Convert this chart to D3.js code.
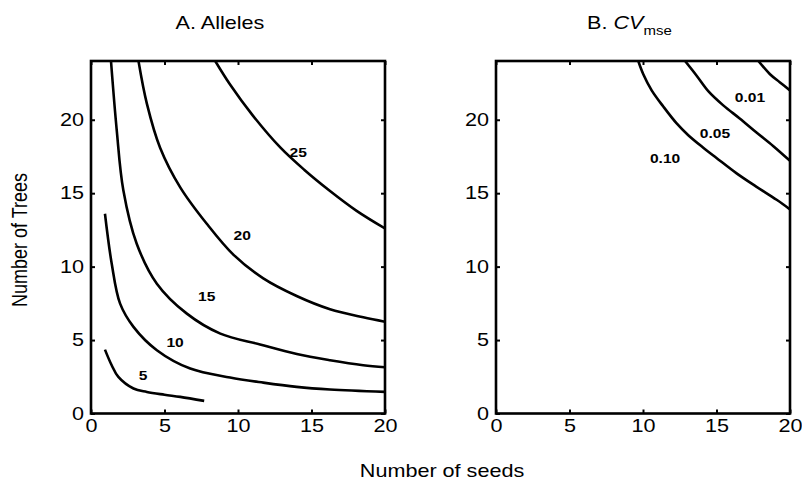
<!DOCTYPE html>
<html><head><meta charset="utf-8">
<script src="https://cdn.jsdelivr.net/npm/d3@7"></script>
<style>body{margin:0;background:#fff;} text{font-family:Arial,"Liberation Sans",sans-serif;}</style>
</head><body><svg id="c" width="802" height="490"></svg>
<script>
// ---- data ----
const xTicks = [0, 5, 10, 15, 20];
const yTicks = [0, 5, 10, 15, 20];
const xDomain = [0, 20];
const yDomain = [0, 24];

// Panel A: allele contours (number of seeds, number of trees)
const allelesLevels = ["5", "10", "15", "20", "25"];
const alleles5  = [[0.95,4.35],[1.4,3.3],[1.86,2.49],[2.89,1.70],[3.8,1.47],[5,1.28],[6.07,1.13],[7.7,0.86]];
const alleles10 = [[0.95,13.6],[1.41,10.2],[1.98,7.48],[2.89,5.9],[4.48,4.31],[6.75,3.06],[9.46,2.45],[11.72,2.1],[13.99,1.81],[16.26,1.63],[20,1.47]];
const alleles15 = [[1.36,24],[1.75,19.3],[2.2,15.2],[3.11,11.56],[4.48,8.84],[6.52,6.8],[8.8,5.44],[11.5,4.7],[14,4.05],[16.26,3.63],[18.52,3.29],[20,3.15]];
const alleles20 = [[3.23,24],[3.8,21.1],[4.7,18.1],[6.07,15.4],[7.89,12.9],[9.7,10.8],[11.72,9.2],[13.99,8.0],[16.26,7.1],[18.52,6.55],[20,6.25]];
const alleles25 = [[8.45,24],[9.46,22.4],[11.0,20.3],[12.89,18.1],[14.5,16.6],[16.26,15.15],[18.07,13.8],[20,12.6]];
const allelesLabelPos = [[3.54,2.61],[5.72,4.85],[7.87,7.97],[10.29,12.14],[14.1,17.8]];

// Panel B: CV_mse contours
const cvLevels = ["0.10", "0.05", "0.01"];
const cv010 = [[9.68,24],[10.02,23.1],[10.59,22.0],[11.38,20.9],[12.29,19.75],[13.08,18.95],[14.1,18.1],[15.0,17.4],[16.37,16.35],[17.7,15.45],[19.09,14.55],[20,13.9]];
const cv005 = [[12.86,24],[13.65,23.0],[14.44,21.95],[15.46,20.98],[16.6,20.07],[17.7,19.15],[18.87,18.2],[20,17.2]];
const cv001 = [[17.85,24],[18.64,23.1],[19.3,22.56],[20,22.0]];
const cvLabelPos = [[11.5,17.38],[14.9,19.09],[17.28,21.55]];

// ---- drawing ----
const SX = 1.2;          // horizontal stretch of glyphs seen in the reference
const FS = 18;
const svg = d3.select("#c");
const H = { top: 61, bottom: 413.5 };
const panels = [
  { left: 91, right: 385, curves: [alleles5, alleles10, alleles15, alleles20, alleles25], labels: allelesLevels, labelPos: allelesLabelPos, id: "A" },
  { left: 496, right: 790, curves: [cv010, cv005, cv001], labels: cvLevels, labelPos: cvLabelPos, id: "B" }
];

function stretchedText(parent, x, y, str, size, weight, anchor) {
  return parent.append("text")
    .attr("transform", `translate(${x},${y}) scale(${SX},1)`)
    .attr("text-anchor", anchor || "middle")
    .attr("font-size", size).attr("font-weight", weight || "normal").text(str);
}

panels.forEach(p => {
  const x = d3.scaleLinear().domain(xDomain).range([p.left, p.right]);
  const y = d3.scaleLinear().domain(yDomain).range([H.bottom, H.top]);
  const g = svg.append("g");
  g.append("clipPath").attr("id", "clip" + p.id).append("rect")
    .attr("x", p.left).attr("y", H.top).attr("width", p.right - p.left).attr("height", H.bottom - H.top);

  const line = d3.line().x(d => x(d[0])).y(d => y(d[1])).curve(d3.curveCatmullRom.alpha(0.5));
  g.append("g").attr("clip-path", `url(#clip${p.id})`).selectAll("path").data(p.curves).join("path")
    .attr("d", line).attr("fill", "none").attr("stroke", "#000").attr("stroke-width", 2.6)
    .attr("stroke-linejoin", "round");

  p.labels.forEach((d, i) => {
    stretchedText(g, x(p.labelPos[i][0]), y(p.labelPos[i][1]) + 5, d, 13, "bold");
  });

  // axes (ticks inward, box)
  const tk = 4;
  const bx = d3.axisBottom(x).tickValues(xTicks).tickSizeInner(-tk).tickSizeOuter(0).tickPadding(8);
  const ly = d3.axisLeft(y).tickValues(yTicks).tickSizeInner(-tk).tickSizeOuter(0).tickPadding(7);
  const tx = d3.axisTop(x).tickValues(xTicks).tickSizeInner(-tk).tickSizeOuter(0).tickFormat("");
  const ry = d3.axisRight(y).tickValues(yTicks).tickSizeInner(-tk).tickSizeOuter(0).tickFormat("");
  const axB = g.append("g").attr("transform", `translate(0,${H.bottom})`).call(bx);
  const axL = g.append("g").attr("transform", `translate(${p.left},0)`).call(ly);
  const axT = g.append("g").attr("transform", `translate(0,${H.top})`).call(tx);
  const axR = g.append("g").attr("transform", `translate(${p.right},0)`).call(ry);
  [axB, axL, axT, axR].forEach(a => {
    a.select(".domain").remove();
    a.selectAll(".tick line").attr("stroke", "#000").attr("stroke-width", 2);
    a.selectAll(".tick text").attr("font-size", FS).attr("fill", "#000")
      .attr("font-family", "Arial, 'Liberation Sans', sans-serif");
  });
  axB.selectAll(".tick text").attr("transform", `scale(${SX},1)`).attr("y", 6).attr("dy", "0.71em");
  axL.selectAll(".tick text").attr("transform", `scale(${SX},1)`).attr("x", -7 / SX);
  g.append("rect").attr("x", p.left).attr("y", H.top).attr("width", p.right - p.left)
    .attr("height", H.bottom - H.top).attr("fill", "none").attr("stroke", "#000").attr("stroke-width", 2.6);
});

// titles
stretchedText(svg, 220, 29, "A. Alleles", FS);
const tB = svg.append("text").attr("transform", `translate(587,29) scale(${SX},1)`).attr("font-size", FS);
tB.append("tspan").text("B. ");
tB.append("tspan").attr("font-style", "italic").text("CV");
tB.append("tspan").attr("font-size", 12.5).attr("dy", 6).text("mse");

// axis labels
svg.append("text").attr("transform", `translate(27,240) scale(${SX},1) rotate(-90)`).attr("text-anchor", "middle")
  .attr("font-size", FS).text("Number of Trees");
stretchedText(svg, 442, 477, "Number of seeds", FS);
</script></body></html>
